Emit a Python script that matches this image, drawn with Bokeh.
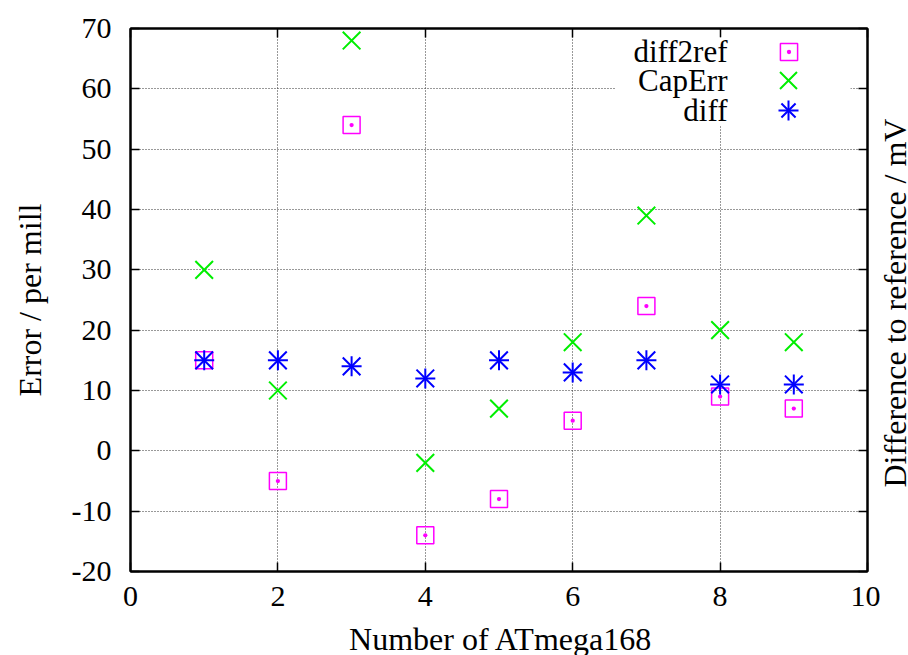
import math
from bokeh.plotting import figure
from bokeh.layouts import row, column
from bokeh.models import (Range1d, FixedTicker, LinearAxis, Legend, LegendItem,
                          Label, BoxAnnotation)
from bokeh.embed import file_html
from bokeh.resources import INLINE

# ---- data ----
chip = [1, 2, 3, 4, 5, 6, 7, 8, 9]
diff2ref = [15, -5, 54, -14, -8, 5, 24, 9, 7]
cap_err = [30, 10, 68, -2, 7, 18, 39, 20, 18]
diff = [15, 15, 14, 12, 15, 13, 15, 11, 11]

x_ticks = [0, 2, 4, 6, 8, 10]
y_ticks = [-20, -10, 0, 10, 20, 30, 40, 50, 60, 70]
y_tick_text = {t: str(t) for t in y_ticks}   # plain hyphen minus like the reference

x_title = "Number of ATmega168"
y_title = "Error / per mill"
y2_title = "Difference to reference / mV"
key_names = ["diff2ref", "CapErr", "diff"]

FONT = "Liberation Serif"
TICK_FS = "30px"
TITLE_FS = "32px"
KEY_FS = "31px"
MAGENTA = "#ff00ff"
GREEN = "#00ee00"
BLUE = "#0000ff"

# main plot 880x620, a 28px strip on the right, a 35px strip below
W, H = 880, 620
BL, BR, BT, BB = 130, 13, 28, 49
FW, FH = W - BL - BR, H - BT - BB
SIDE_W, BOTTOM_H = 28, 35

p = figure(width=W, height=H, output_backend="svg", toolbar_location=None,
           x_range=Range1d(0, 10), y_range=Range1d(-20, 70),
           min_border_left=BL, min_border_right=BR, min_border_top=BT,
           min_border_bottom=BB, x_axis_location=None, y_axis_location=None)
p.background_fill_color = "white"
p.border_fill_color = "white"
p.outline_line_color = "black"
p.outline_line_width = 2


def style_axis(ax, ticks, labels=True):
    ax.ticker = FixedTicker(ticks=ticks)
    ax.axis_line_color = "black"
    ax.axis_line_width = 2
    ax.major_tick_in = 9
    ax.major_tick_out = 0
    ax.major_tick_line_width = 1.5
    ax.minor_tick_line_color = None
    ax.major_label_text_font = FONT
    ax.major_label_text_color = "black"
    ax.axis_label_text_font = FONT
    ax.axis_label_text_font_size = TITLE_FS
    ax.axis_label_text_font_style = "normal"
    ax.axis_label_text_color = "black"
    if labels:
        ax.major_label_text_font_size = TICK_FS
    else:
        ax.major_label_text_font_size = "0px"
        ax.major_label_standoff = 0
    ax.axis_label_standoff = 0


bottom = LinearAxis()
top = LinearAxis()
left = LinearAxis(axis_label=y_title)
right = LinearAxis()
style_axis(bottom, x_ticks)
style_axis(top, x_ticks, labels=False)
style_axis(left, y_ticks)
style_axis(right, y_ticks, labels=False)
left.major_label_overrides = y_tick_text
bottom.major_label_standoff = 15
left.major_label_standoff = 19
left.axis_label_standoff = 21
p.add_layout(bottom, "below")
p.add_layout(top, "above")
p.add_layout(left, "left")
p.add_layout(right, "right")

# dotted grid
p.xgrid.ticker = FixedTicker(ticks=x_ticks)
p.ygrid.ticker = FixedTicker(ticks=y_ticks)
for g in (p.xgrid, p.ygrid):
    g.grid_line_color = "#333333"
    g.grid_line_dash = "1 2"
    g.grid_line_width = 1

# series
r_sq = p.scatter(chip, diff2ref, marker="square_dot", size=17, fill_color=None,
                 line_color=MAGENTA, line_width=1.5)
r_x = p.scatter(chip, cap_err, marker="x", size=25, line_color=GREEN, line_width=2)
r_c = p.scatter(chip, diff, marker="cross", size=20, line_color=BLUE, line_width=2)
r_d = p.scatter(chip, diff, marker="x", size=25, line_color=BLUE, line_width=2)

# key: white box, right-aligned texts, samples to the right
p.add_layout(BoxAnnotation(left=485, right=720, top=FH - 9, bottom=FH - 97,
                           left_units="screen", right_units="screen",
                           top_units="screen", bottom_units="screen",
                           fill_color="white", fill_alpha=1, line_alpha=0))

key_rows = [FH - 23, FH - 52, FH - 82]
key_renderers = [[r_sq], [r_x], [r_c, r_d]]
key_glyph = [43, 60, 50]
for name, row_y, rends, gsz in zip(key_names, key_rows, key_renderers, key_glyph):
    p.add_layout(Label(x=597, y=row_y, x_units="screen", y_units="screen", text=name,
                       text_align="right", text_baseline="middle",
                       text_font=FONT, text_font_size=KEY_FS, text_color="black"))
    lg = Legend(items=[LegendItem(label=" ", renderers=rends)],
                location=(658 - gsz / 2, row_y - gsz / 2), glyph_width=gsz,
                glyph_height=gsz, padding=0, margin=0, spacing=0,
                label_standoff=0, label_width=0, label_height=0,
                label_text_font_size="1px",
                border_line_alpha=0, background_fill_alpha=0)
    p.add_layout(lg)


def strip(width, height):
    f = figure(width=width, height=height, output_backend="svg",
               toolbar_location=None, x_range=Range1d(0, 1), y_range=Range1d(0, 1),
               min_border=0, x_axis_location=None, y_axis_location=None)
    f.outline_line_color = None
    f.xgrid.visible = False
    f.ygrid.visible = False
    f.background_fill_color = "white"
    f.border_fill_color = "white"
    return f


# right-hand title, reading bottom to top (its frame lines up with the main frame)
p_right = strip(SIDE_W, H)
p_right.add_layout(Label(x=SIDE_W / 2, y=FH / 2 - 3, x_units="screen", y_units="screen",
                         text=y2_title, angle=math.pi / 2, text_align="center",
                         text_baseline="middle", text_font=FONT,
                         text_font_size=TITLE_FS, text_color="black"))

# x-axis title below
p_bottom = strip(W + SIDE_W, BOTTOM_H)
p_bottom.add_layout(Label(x=BL + FW / 2 + 2, y=17, x_units="screen", y_units="screen",
                          text=x_title, text_align="center",
                          text_baseline="alphabetic", text_font=FONT,
                          text_font_size=TITLE_FS, text_color="black"))

layout = column(row(p, p_right, spacing=0), p_bottom, spacing=0)
open("out.html", "w").write(file_html(layout, INLINE))
